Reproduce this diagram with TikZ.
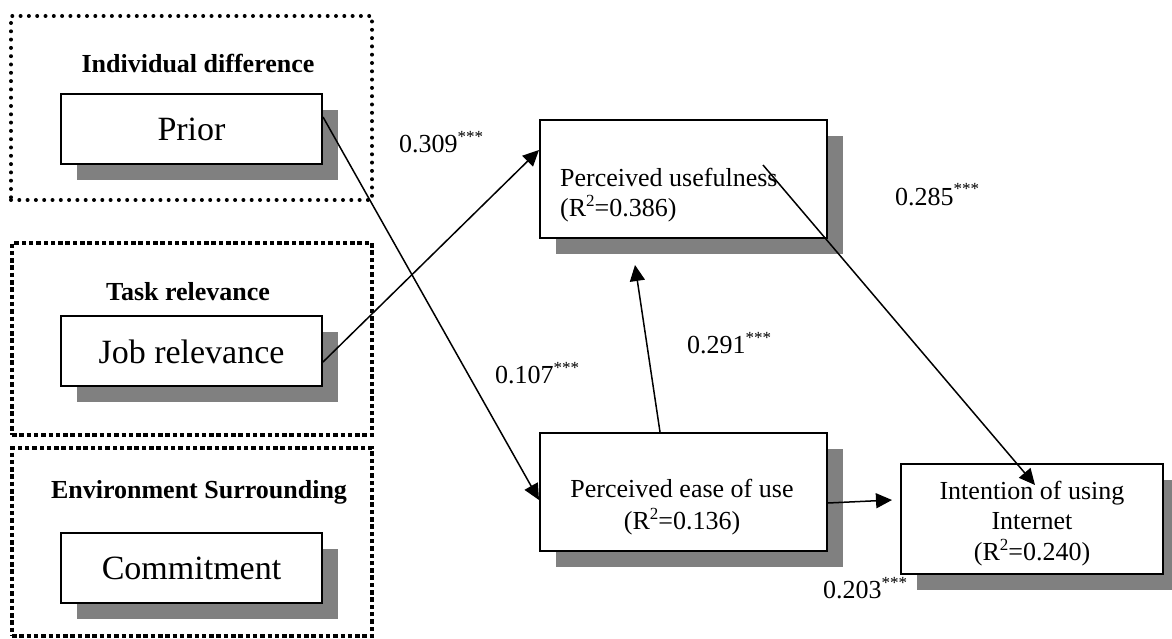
\documentclass[tikz,border=0pt]{standalone}
\usepackage{fontspec}
\setmainfont{Liberation Serif}
\usetikzlibrary{arrows.meta,shadows,calc}
\newcommand\rsq{R\raisebox{10pt}{\fontsize{17}{17}\selectfont 2}}
\newcommand\stars{\raisebox{10pt}{\fontsize{17}{17}\selectfont ***}}
\begin{document}
\begin{tikzpicture}[x=1pt,y=-1pt,
  shadowed/.style={drop shadow={shadow xshift=16pt, shadow yshift=-16pt, fill=black!50, opacity=1}},
  varbox/.style={draw, line width=2pt, fill=white, inner sep=0pt, shadowed,
    minimum width=261pt, minimum height=70pt, text height=24pt, text depth=0pt,
    font=\fontsize{34}{40}\selectfont},
  bigbox/.style={draw, line width=2pt, fill=white, inner sep=0pt, shadowed,
    minimum width=287pt, minimum height=118pt},
  txt/.style={inner sep=0pt, font=\fontsize{26}{30}\selectfont},
  grplabel/.style={inner sep=0pt, font=\bfseries\fontsize{26}{30}\selectfont},
  rounddots/.style={draw, inner sep=0pt, line width=4pt, line cap=round, dash pattern=on 0pt off 8.3pt},
  squaredots/.style={draw, inner sep=0pt, line width=4.5pt, line cap=butt, dash pattern=on 4.5pt off 2.8pt},
  arr/.style={line width=1.5pt, -{Triangle[length=16pt,width=15pt]}}
]
\useasboundingbox (0,0) rectangle (1172,639);

% group frames
\node[rounddots, minimum width=361pt, minimum height=184pt] (grp1) at (191.5,108) {};
\node[squaredots, minimum width=360pt, minimum height=192pt] (grp2) at (192,339) {};
\node[squaredots, minimum width=360pt, minimum height=188pt] (grp3) at (192,542) {};

\node[grplabel, anchor=base] (lab1) at (198,73) {Individual difference};
\node[grplabel, anchor=base] (lab2) at (188,300) {Task relevance};
\node[grplabel, anchor=base] (lab3) at (199,498) {Environment Surrounding};

% left variables
\node[varbox] (prior) at (191.5,129) {Prior};
\node[varbox] (job) at (191.5,351) {Job relevance};
\node[varbox] (commit) at (191.5,567.5) {Commitment};

% right constructs
\node[bigbox] (pu) at (683.5,179) {};
\node[txt, anchor=base west] (pu1) at (560,187) {Perceived usefulness};
\node[txt, anchor=base west] (pu2) at (560,217) {(\rsq=0.386)};

\node[bigbox] (peou) at (683.5,492) {};
\node[txt, anchor=base] (peou1) at (682,497) {Perceived ease of use};
\node[txt, anchor=base] (peou2) at (682,529) {(\rsq=0.136)};

\node[bigbox, minimum width=262pt, minimum height=110pt] (intent) at (1032,519) {};
\node[txt, anchor=base] (int1) at (1032,499) {Intention of using};
\node[txt, anchor=base] (int2) at (1032,529) {Internet};
\node[txt, anchor=base] (int3) at (1032,560) {(\rsq=0.240)};

% coefficients
\node[txt, anchor=base west] (c309) at (399,153) {0.309\stars};
\node[txt, anchor=base west] (c285) at (895,205) {0.285\stars};
\node[txt, anchor=base west] (c107) at (495,383) {0.107\stars};
\node[txt, anchor=base west] (c291) at (687,353) {0.291\stars};
\node[txt, anchor=base west] (c203) at (823,598) {0.203\stars};

% connectors
\draw[arr] ([yshift=12pt]prior.east) -- ([yshift=-8pt]peou.west);
\draw[arr] ([yshift=-11pt]job.east) -- ([yshift=29pt]pu.west);
\draw[arr] ([xshift=-23.5pt]peou.north) -- ([xshift=-48.5pt,yshift=-26pt]pu.south);
\draw[arr] ([xshift=79.5pt,yshift=14pt]pu.center) -- ([xshift=3pt,yshift=34pt]intent.center);
\draw[arr] ([yshift=-11pt]peou.east) -- ([xshift=-8pt,yshift=19pt]intent.west);
\end{tikzpicture}
\end{document}
